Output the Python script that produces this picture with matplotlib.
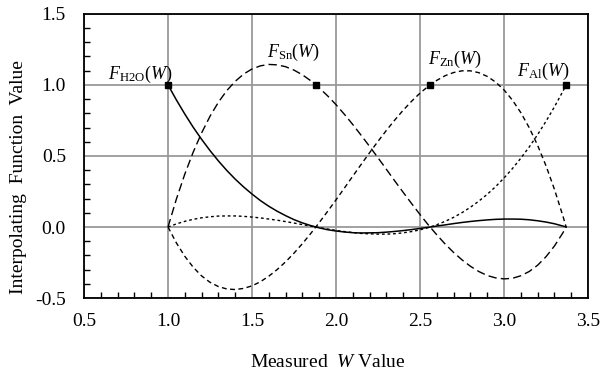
import numpy as np
import matplotlib
matplotlib.use('Agg')
import matplotlib.pyplot as plt
from matplotlib.ticker import MultipleLocator

plt.rcParams['font.family'] = ['Liberation Serif', 'DejaVu Serif']
plt.rcParams['mathtext.fontset'] = 'custom'
plt.rcParams['mathtext.rm'] = 'Liberation Serif'
plt.rcParams['mathtext.it'] = 'Liberation Serif:italic'

# measured W values along the curves
w_values = [1.0, 1.05, 1.1, 1.15, 1.2, 1.25, 1.3, 1.35, 1.4, 1.45, 1.5, 1.55,
            1.6, 1.65, 1.7, 1.75, 1.8, 1.85, 1.9, 1.95, 2.0, 2.05, 2.1, 2.15,
            2.2, 2.25, 2.3, 2.35, 2.4, 2.45, 2.5, 2.55, 2.6, 2.65, 2.7, 2.75,
            2.8, 2.85, 2.9, 2.95, 3.0, 3.05, 3.1, 3.15, 3.2, 3.25, 3.3, 3.35,
            3.37]

f_h2o = [1.0, 0.894, 0.795, 0.702, 0.617, 0.538, 0.465, 0.398, 0.337, 0.282,
         0.232, 0.186, 0.146, 0.111, 0.080, 0.052, 0.029, 0.010, -0.006,
         -0.019, -0.028, -0.035, -0.040, -0.042, -0.041, -0.040, -0.036,
         -0.031, -0.025, -0.018, -0.010, -0.002, 0.007, 0.015, 0.024, 0.032,
         0.039, 0.045, 0.050, 0.054, 0.056, 0.056, 0.055, 0.051, 0.044, 0.035,
         0.023, 0.007, 0.0]
f_sn = [0.0, 0.197, 0.372, 0.527, 0.662, 0.779, 0.878, 0.960, 1.025, 1.076,
        1.112, 1.134, 1.144, 1.141, 1.128, 1.104, 1.071, 1.029, 0.979, 0.923,
        0.861, 0.793, 0.721, 0.645, 0.567, 0.487, 0.406, 0.324, 0.244, 0.165,
        0.088, 0.014, -0.055, -0.120, -0.179, -0.231, -0.276, -0.313, -0.341,
        -0.358, -0.365, -0.361, -0.343, -0.313, -0.269, -0.209, -0.134,
        -0.042, 0.0]
f_zn = [0.0, -0.112, -0.206, -0.283, -0.344, -0.389, -0.419, -0.436, -0.440,
        -0.432, -0.414, -0.385, -0.346, -0.299, -0.245, -0.184, -0.117,
        -0.045, 0.031, 0.110, 0.191, 0.274, 0.358, 0.441, 0.523, 0.603, 0.680,
        0.753, 0.822, 0.885, 0.942, 0.991, 1.032, 1.065, 1.087, 1.099, 1.099,
        1.086, 1.060, 1.020, 0.965, 0.893, 0.805, 0.699, 0.575, 0.431, 0.266,
        0.080, 0.0]
f_al = [0.0, 0.022, 0.040, 0.054, 0.065, 0.072, 0.077, 0.078, 0.078, 0.075,
        0.070, 0.064, 0.056, 0.048, 0.038, 0.028, 0.017, 0.006, -0.004,
        -0.014, -0.024, -0.032, -0.039, -0.045, -0.048, -0.050, -0.050,
        -0.047, -0.041, -0.032, -0.020, -0.004, 0.016, 0.040, 0.068, 0.101,
        0.139, 0.182, 0.230, 0.284, 0.345, 0.411, 0.484, 0.563, 0.650, 0.744,
        0.845, 0.954, 1.0]

# node positions (marker at value 1.0)
node_w = [1.0, 1.88, 2.56, 3.37]
node_f = [1.0, 1.0, 1.0, 1.0]
labels = [r'$F_{\mathrm{H2O}}(W)$', r'$F_{\mathrm{Sn}}(W)$',
          r'$F_{\mathrm{Zn}}(W)$', r'$F_{\mathrm{Al}}(W)$']
label_pos = [(0.64, 1.04), (1.59, 1.20), (2.55, 1.145), (3.08, 1.06)]

fig = plt.figure(figsize=(6, 3.74), dpi=100)
ax = fig.add_axes([0.14, 0.203, 0.84, 0.76])

ax.plot(w_values, f_h2o, color='black', lw=1.1, ls='-')
ax.plot(w_values, f_sn, color='black', lw=1.0, ls=(0, (6, 3)))
ax.plot(w_values, f_zn, color='black', lw=1.0, ls=(0, (3.5, 2.5)))
ax.plot(w_values, f_al, color='black', lw=1.0, ls=(0, (2, 2)))
ax.plot(node_w, node_f, 's', color='black', ms=5, ls='none')

for lab, (x, y) in zip(labels, label_pos):
    ax.text(x, y, lab, fontsize=13, ha='left', va='baseline')

ax.set_xlim(0.5, 3.5)
ax.set_ylim(-0.5, 1.5)
ax.xaxis.set_major_locator(MultipleLocator(0.5))
ax.xaxis.set_minor_locator(MultipleLocator(0.1))
ax.yaxis.set_major_locator(MultipleLocator(0.5))
ax.yaxis.set_minor_locator(MultipleLocator(0.1))
ax.set_xticklabels([f'{v:.1f}' for v in ax.get_xticks()])
ax.set_yticklabels([f'{v:.1f}' for v in ax.get_yticks()])
ax.tick_params(which='both', direction='in', top=False, right=False,
               labelsize=14, width=1.0, color='black')
ax.tick_params(which='major', length=0, pad=10.5)
ax.tick_params(axis='y', which='major', pad=13)
ax.tick_params(which='minor', length=4)
ax.grid(True, which='major', color='#9a9a9a', lw=1.3)
ax.set_axisbelow(True)
for s in ax.spines.values():
    s.set_linewidth(1.3)

ax.set_xlabel(r'Measured  $W$ Value', fontsize=14)
ax.set_ylabel('Interpolating  Function  Value', fontsize=14)
ax.xaxis.set_label_coords(0.484, -0.195)
ax.yaxis.set_label_coords(-0.113, 0.426)

fig.savefig('out.png', dpi=100)
